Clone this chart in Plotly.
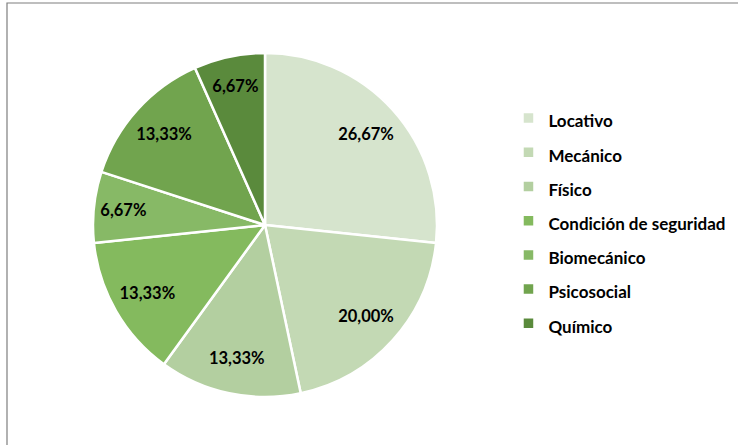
import plotly.graph_objects as go

categories = ["Locativo", "Mecánico", "Físico", "Condición de seguridad",
              "Biomecánico", "Psicosocial", "Químico"]
values = [26.67, 20.00, 13.33, 13.33, 6.67, 13.33, 6.67]
colors = ["#d6e4cd", "#c3d9b4", "#b3cfa0", "#84ba5e", "#87b966", "#71a44e", "#5a8a3c"]

pct_text = [f"{v:.2f}".replace(".", ",") + "%" for v in values]
legend_labels = [f"<span style='font-size:17px'>{c}</span>" for c in categories]

W, H = 738, 445
cx, cy, R = 265, 225, 172
dom = dict(x=[(cx - R) / W, (cx + R) / W], y=[1 - (cy + R) / H, 1 - (cy - R) / H])

# main pie (slices + legend)
fig = go.Figure(go.Pie(
    labels=legend_labels,
    values=values,
    textinfo="none",
    marker=dict(colors=colors, line=dict(color="#ffffff", width=2.5)),
    sort=False,
    direction="clockwise",
    rotation=0,
    hoverinfo="skip",
    domain=dom,
))

# transparent ring overlay carrying the percentage labels further out
fig.add_trace(go.Pie(
    labels=categories,
    values=values,
    text=pct_text,
    textinfo="text",
    textposition="inside",
    insidetextorientation="horizontal",
    textfont=dict(family="Lato", size=16.5, color="#000000", weight="bold"),
    marker=dict(colors=["rgba(0,0,0,0)"] * len(values), line=dict(width=0)),
    hole=0.58,
    sort=False,
    direction="clockwise",
    rotation=0,
    hoverinfo="skip",
    showlegend=False,
    domain=dom,
))

fig.update_layout(
    width=W, height=H,
    margin=dict(l=0, r=0, t=0, b=0),
    paper_bgcolor="#ffffff",
    plot_bgcolor="#ffffff",
    showlegend=True,
    uniformtext=dict(minsize=16.5, mode="show"),
    legend=dict(
        x=0.689, xanchor="left",
        y=1 - 96 / H, yanchor="top",
        font=dict(family="Lato", size=24, color="#000000", weight="bold"),
        bgcolor="rgba(0,0,0,0)",
        itemclick=False, itemdoubleclick=False,
    ),
    shapes=[dict(type="rect", xref="paper", yref="paper",
                 x0=7 / W, x1=1.2, y0=-0.2, y1=1 - 3 / H,
                 line=dict(color="#7f7f7f", width=1.2), fillcolor="rgba(0,0,0,0)", layer="above")],
)

fig.write_html("out.html", config={"displayModeBar": False},
               post_script="document.body.style.margin='0';")
